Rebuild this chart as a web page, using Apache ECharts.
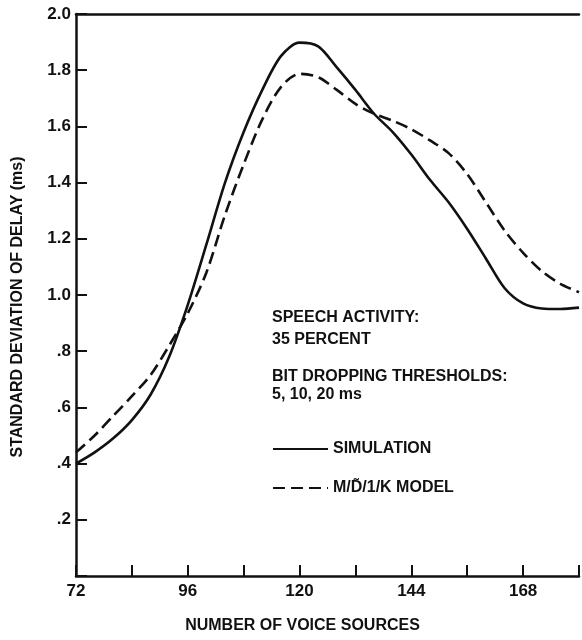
<!DOCTYPE html>
<html>
<head>
<meta charset="utf-8">
<title>Standard deviation of delay vs number of voice sources</title>
<script src="https://cdn.jsdelivr.net/npm/echarts@6/dist/echarts.min.js"></script>
<style>
  html, body { margin: 0; padding: 0; background: #fff; }
  #chart { width: 582px; height: 640px; }
</style>
</head>
<body>
<div id="chart"></div>
<script>
// Number of voice sources (x positions of the curve samples)
const voiceSources = [72, 76, 80, 84, 88, 92, 96, 100, 104, 108, 112, 116, 120, 124, 128, 132, 136, 140, 144, 148, 152, 156, 160, 164, 168, 172, 176, 180];
// Standard deviation of delay (ms), simulation results
const simulation = [0.40, 0.44, 0.49, 0.555, 0.645, 0.78, 0.965, 1.18, 1.40, 1.58, 1.73, 1.85, 1.898, 1.885, 1.81, 1.73, 1.645, 1.58, 1.50, 1.41, 1.33, 1.235, 1.13, 1.025, 0.97, 0.952, 0.95, 0.955];
// Standard deviation of delay (ms), M/D~/1/K model
const model = [0.44, 0.50, 0.57, 0.64, 0.715, 0.82, 0.935, 1.08, 1.285, 1.465, 1.625, 1.74, 1.787, 1.775, 1.73, 1.68, 1.645, 1.62, 1.59, 1.55, 1.505, 1.43, 1.33, 1.23, 1.15, 1.085, 1.04, 1.01];

const xLabels = [72, 96, 120, 144, 168];
const yLabels = {2.0: '2.0', 1.8: '1.8', 1.6: '1.6', 1.4: '1.4', 1.2: '1.2', 1.0: '1.0', 0.8: '.8', 0.6: '.6', 0.4: '.4', 0.2: '.2'};

const seriesNames = ['SIMULATION', 'M/D\u0303/1/K MODEL'];
const noteLines = ['SPEECH ACTIVITY:', '35 PERCENT', 'BIT DROPPING THRESHOLDS:', '5, 10, 20 ms'];

const FONT = '"Liberation Sans", Arial, Helvetica, sans-serif';
const INK = '#111';

const chart = echarts.init(document.getElementById('chart'), null, { renderer: 'canvas' });

const noteY = [318, 340, 376.5, 395];

chart.setOption({
  animation: false,
  backgroundColor: '#fff',
  grid: { left: 76, right: 1, top: 14, bottom: 64, containLabel: false },
  xAxis: [
    {
      type: 'value',
      position: 'bottom',
      min: 72,
      max: 180,
      interval: 12,
      name: 'NUMBER OF VOICE SOURCES',
      nameLocation: 'middle',
      nameGap: 42,
      nameTextStyle: { fontFamily: FONT, fontSize: 16, fontWeight: 'bold', color: INK, padding: [0, 50, 0, 0] },
      axisLine: { show: true, lineStyle: { color: INK, width: 2.5 } },
      axisTick: { show: true, inside: true, length: 11, lineStyle: { color: INK, width: 2 } },
      axisLabel: {
        margin: 7,
        fontFamily: FONT, fontSize: 17, fontWeight: 'bold', color: INK,
        formatter: v => (xLabels.indexOf(v) >= 0 ? String(v) : '')
      },
      splitLine: { show: false }
    },
    {
      type: 'value',
      position: 'top',
      min: 72,
      max: 180,
      axisLine: { show: true, lineStyle: { color: INK, width: 2.5 } },
      axisTick: { show: false },
      axisLabel: { show: false },
      splitLine: { show: false }
    }
  ],
  yAxis: {
    type: 'value',
    min: 0,
    max: 2.0,
    interval: 0.2,
    name: 'STANDARD DEVIATION OF DELAY (ms)',
    nameLocation: 'middle',
    nameGap: 50,
    nameTextStyle: { fontFamily: FONT, fontSize: 16, fontWeight: 'bold', color: INK, padding: [0, 24, 0, 0] },
    axisLine: { show: true, lineStyle: { color: INK, width: 2.5 } },
    axisTick: { show: true, inside: true, length: 11, lineStyle: { color: INK, width: 2 } },
    axisLabel: {
      margin: 5,
      fontFamily: FONT, fontSize: 17, fontWeight: 'bold', color: INK,
      formatter: v => yLabels[Math.round(v * 10) / 10] || ''
    },
    splitLine: { show: false }
  },
  legend: {
    orient: 'vertical',
    left: 267,
    top: 436,
    itemWidth: 55,
    itemHeight: 14,
    itemGap: 23,
    selectedMode: false,
    data: seriesNames,
    itemStyle: { opacity: 0 },
    textStyle: { fontFamily: FONT, fontSize: 16, fontWeight: 'bold', color: INK, padding: [0, 0, 0, 0] }
  },
  series: [
    {
      name: seriesNames[0],
      type: 'line',
      smooth: 0.3,
      symbol: 'none',
      data: voiceSources.map((x, i) => [x, simulation[i]]),
      lineStyle: { color: INK, width: 2.6, type: 'solid' },
      itemStyle: { color: INK }
    },
    {
      name: seriesNames[1],
      type: 'line',
      smooth: 0.3,
      symbol: 'none',
      data: voiceSources.map((x, i) => [x, model[i]]),
      lineStyle: { color: INK, width: 2.6, type: [12, 6] },
      itemStyle: { color: INK }
    }
  ],
  graphic: noteLines.map((t, i) => ({
    type: 'text',
    x: 272,
    y: noteY[i],
    style: { text: t, fill: INK, font: 'bold 16px ' + FONT, verticalAlign: 'middle', align: 'left' }
  }))
});
</script>
</body>
</html>
